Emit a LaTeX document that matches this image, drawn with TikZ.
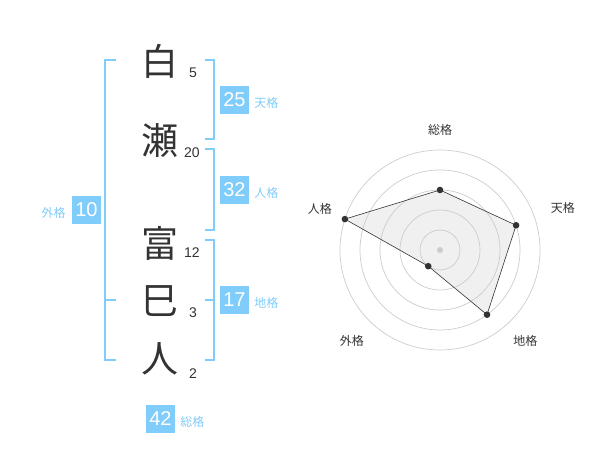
\documentclass[tikz,border=0pt]{standalone}
\usepackage{fontspec}
\setmainfont{Liberation Sans}
\newfontfamily\jp{Noto Sans CJK JP}
\usetikzlibrary{positioning}
\definecolor{kakublue}{RGB}{128,204,250}
\definecolor{inkgray}{RGB}{51,51,51}
\tikzset{
  kanji/.style={font=\jp\fontsize{37}{37}\selectfont, text=inkgray, inner sep=0pt},
  strokes/.style={font=\fontsize{14}{14}\selectfont, text=inkgray, inner sep=0pt},
  kakubox/.style={fill=kakublue, text=white, font=\fontsize{20}{20}\selectfont, minimum width=29pt, minimum height=28pt, inner sep=0pt},
  kakuname/.style={font=\jp\fontsize{12}{12}\selectfont, text=kakublue, inner sep=0pt, yshift=-3pt},
  bracket/.style={draw=kakublue, line width=2pt},
  ring/.style={draw=black!20, line width=0.7pt},
  axisname/.style={font=\jp\fontsize{12}{12}\selectfont, text=inkgray, inner sep=0pt},
}
\begin{document}
\begin{tikzpicture}[x=1pt,y=-1pt]
\useasboundingbox (0,0) rectangle (600,470);
% name
\node[kanji] (k1) at (160,61) {白};
\node[kanji] (k2) at (160,141) {瀬};
\node[kanji] (k3) at (160,243) {富};
\node[kanji] (k4) at (160,301) {巳};
\node[kanji] (k5) at (160,359) {人};
\node[strokes] (n1) at (193,73) {5};
\node[strokes] (n2) at (192,153) {20};
\node[strokes] (n3) at (192,253) {12};
\node[strokes] (n4) at (193,313) {3};
\node[strokes] (n5) at (193,374) {2};
% brackets
\draw[bracket] (116,60) -- (105,60) -- (105,360) -- (116,360);
\draw[bracket] (105,300) -- (116,300);
\draw[bracket] (205,60) -- (214,60) -- (214,139) -- (205,139);
\draw[bracket] (205,149) -- (214,149) -- (214,230) -- (205,230);
\draw[bracket] (205,240) -- (214,240) -- (214,360) -- (205,360);
\draw[bracket] (205,300) -- (214,300);
% kaku boxes
\node[kakubox] (ten) at (234.5,100) {25};
\node[kakuname, right=5pt of ten] (tenl) {天格};
\node[kakubox] (jin) at (234.5,190) {32};
\node[kakuname, right=5pt of jin] (jinl) {人格};
\node[kakubox] (chi) at (234.5,300) {17};
\node[kakuname, right=5pt of chi] (chil) {地格};
\node[kakubox] (gai) at (86.5,210) {10};
\node[kakuname, left=6pt of gai] (gail) {外格};
\node[kakubox] (sou) at (160.5,419) {42};
\node[kakuname, right=5pt of sou] (soul) {総格};
% radar
\begin{scope}[shift={(440,250)}, yscale=-1]
\foreach \a/\r/\t/\la/\lr [count=\i] in {90/60/総格/90/120, 18/80/天格/19/130, -54/80/地格/-47/125, -126/20/外格/-134/127, 162/100/人格/161/127} {
  \coordinate (p\i) at (\a:\r);
  \node[axisname] (ax\i) at (\la:\lr) {\t};
}
\fill[black!6] (p1) -- (p2) -- (p3) -- (p4) -- (p5) -- cycle;
\foreach \r in {20,40,60,80,100}
  \draw[ring] (0,0) circle (\r);
\fill[black!20] (0,0) circle (3);
\draw[inkgray, line width=0.6pt] (p1) -- (p2) -- (p3) -- (p4) -- (p5) -- cycle;
\foreach \i in {1,...,5}
  \fill[inkgray] (p\i) circle (3.3);
\end{scope}
\end{tikzpicture}
\end{document}
